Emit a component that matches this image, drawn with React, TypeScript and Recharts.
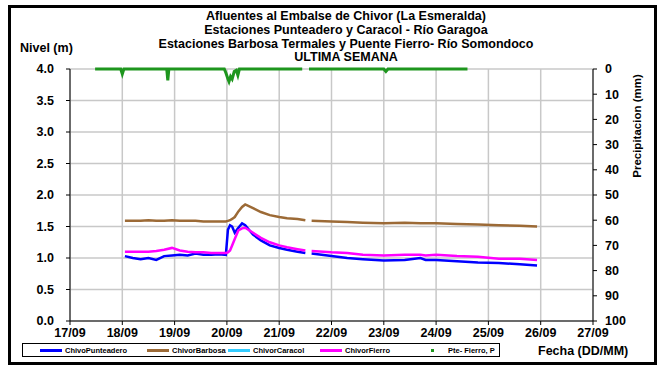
import { ComposedChart, Line, XAxis, YAxis, CartesianGrid } from 'recharts';

const FONT = '"Liberation Sans", Arial, sans-serif';

const titleLines = [
  'Afluentes al Embalse de Chivor (La Esmeralda)',
  'Estaciones Punteadero y Caracol - Río Garagoa',
  'Estaciones Barbosa Termales y Puente Fierro- Río Somondoco',
  'ULTIMA SEMANA',
];

// day of month (september), fractional
const dias = [
  18.05, 18.2, 18.35, 18.5, 18.65, 18.8, 18.95, 19.1, 19.25, 19.4, 19.55, 19.7, 19.85, 19.98,
  20.02, 20.06, 20.1, 20.15, 20.22, 20.29, 20.35, 20.5, 20.65, 20.82, 21.0, 21.15, 21.35, 21.5,
  21.56,
  21.62, 22.0, 22.3, 22.6, 23.0, 23.4, 23.7, 23.8, 24.0, 24.4, 24.8, 25.2, 25.6, 25.93,
];
const punteadero = [
  1.03, 1.0, 0.98, 1.0, 0.97, 1.03, 1.04, 1.05, 1.04, 1.07, 1.05, 1.05, 1.06, 1.05,
  1.45, 1.52, 1.5, 1.4, 1.48, 1.55, 1.52, 1.37, 1.28, 1.2, 1.16, 1.13, 1.1, 1.08,
  null,
  1.07, 1.03, 1.0, 0.98, 0.96, 0.97, 1.0, 0.97, 0.97, 0.95, 0.93, 0.92, 0.9, 0.88,
];
const barbosa = [
  1.59, 1.59, 1.59, 1.6, 1.59, 1.59, 1.6, 1.59, 1.59, 1.59, 1.58, 1.58, 1.58, 1.58,
  1.59, 1.6, 1.62, 1.65, 1.74, 1.81, 1.85, 1.79, 1.73, 1.68, 1.65, 1.63, 1.62, 1.6,
  null,
  1.59, 1.58, 1.57, 1.56, 1.55, 1.56, 1.55, 1.55, 1.55, 1.54, 1.53, 1.52, 1.51, 1.5,
];
const caracol: (number | null)[] = dias.map(() => null);
const fierro = [
  1.1, 1.1, 1.1, 1.1, 1.11, 1.13, 1.16, 1.12, 1.1, 1.09, 1.09, 1.08, 1.08, 1.08,
  1.09, 1.12, 1.2, 1.3, 1.44, 1.47, 1.48, 1.4, 1.32, 1.25, 1.2, 1.17, 1.14, 1.12,
  null,
  1.11, 1.09, 1.08, 1.05, 1.04, 1.05, 1.05, 1.04, 1.05, 1.03, 1.02, 0.99, 0.99, 0.97,
];

const diasLluvia = [
  17.48, 17.97, 18.0, 18.03, 18.85, 18.87, 18.89, 19.95, 19.98, 20.02, 20.04, 20.07,
  20.1, 20.14, 20.18, 20.21, 20.24, 21.44, 21.5, 21.57, 23.0, 23.04, 23.08, 24.6,
];
const lluvia = [
  0, 0, 2, 0, 0, 4.5, 0, 0, 1.5, 4, 5, 3, 4, 1, 0.5, 2.5, 0, 0, null, 0, 0, 1, 0, 0,
];

const xTicks = [17, 18, 19, 20, 21, 22, 23, 24, 25, 26, 27];
const nivelTicks = [0, 0.5, 1, 1.5, 2, 2.5, 3, 3.5, 4];
const lluviaTicks = [0, 10, 20, 30, 40, 50, 60, 70, 80, 90, 100];

const series = [
  { key: 'punteadero', name: 'ChivoPunteadero', color: '#0000ff' },
  { key: 'barbosa', name: 'ChivorBarbosa', color: '#9c6a36' },
  { key: 'caracol', name: 'ChivorCaracol', color: '#33ccff' },
  { key: 'fierro', name: 'ChivorFierro', color: '#ff00ff' },
];
const lluviaName = 'Pte- Fierro, P';
const lluviaColor = '#1e961e';

const nivelData = dias.map((d, i) => ({
  d, punteadero: punteadero[i], barbosa: barbosa[i], caracol: caracol[i], fierro: fierro[i],
}));
const lluviaData = diasLluvia.map((d, i) => ({ d, p: lluvia[i] }));

const fmtDia = (d: number) => `${d}/09`;
const tickStyle = { fill: '#000', fontSize: 12.5, fontWeight: 700, fontFamily: FONT };

export default function App() {
  return (
    <div style={{ position: 'relative', width: 662, height: 370, fontFamily: FONT, background: '#fff' }}>
      <style>{'body{margin:0}'}</style>
      <div style={{ position: 'absolute', left: 8, top: 5, width: 643, height: 354, border: '3px solid #000' }} />
      <div style={{ position: 'absolute', left: 136, width: 420, top: 10, textAlign: 'center',
        fontSize: 12.5, fontWeight: 700, lineHeight: '13.8px' }}>
        {titleLines.map((t) => <div key={t}>{t}</div>)}
      </div>
      <div style={{ position: 'absolute', left: 20, top: 41, fontSize: 12.5, fontWeight: 700 }}>Nivel (m)</div>
      <div style={{ position: 'absolute', left: 637, top: 126, fontSize: 11.5, fontWeight: 700,
        transform: 'translate(-50%, -50%) rotate(-90deg)', whiteSpace: 'nowrap' }}>Precipitacion (mm)</div>
      <div style={{ position: 'absolute', left: 538, top: 344, fontSize: 12.5, fontWeight: 700 }}>Fecha (DD/MM)</div>

      <div style={{ position: 'absolute', left: 0, top: 0 }}>
        <ComposedChart width={662} height={370} data={nivelData}
          margin={{ top: 69, right: 39, bottom: 29, left: 30 }}>
          <CartesianGrid yAxisId="l" stroke="#c8c8c8" strokeWidth={1.5} />
          <XAxis dataKey="d" type="number" domain={[17, 27]} ticks={xTicks} tickFormatter={fmtDia}
            stroke="#000" tickSize={4} tickMargin={3} height={20} tick={tickStyle} interval={0} />
          <YAxis yAxisId="l" domain={[0, 4]} ticks={nivelTicks} tickFormatter={(v: number) => v.toFixed(1)}
            stroke="#000" tickSize={4} tickMargin={12} width={40} tick={tickStyle} interval={0} />
          <YAxis yAxisId="r" orientation="right" reversed domain={[0, 100]} ticks={lluviaTicks}
            stroke="#000" tickSize={4} tickMargin={8} width={30} tick={tickStyle} interval={0} />
          {series.map((s) => (
            <Line key={s.key} yAxisId="l" dataKey={s.key} name={s.name} stroke={s.color} strokeWidth={2.5}
              dot={false} type="linear" isAnimationActive={false} />
          ))}
          <Line yAxisId="r" data={lluviaData} dataKey="p" name={lluviaName} stroke={lluviaColor}
            strokeWidth={3} dot={false} type="linear" isAnimationActive={false} />
        </ComposedChart>
      </div>

      <div style={{ position: 'absolute', left: 22, top: 343, width: 476, height: 12, border: '1px solid #000',
        fontSize: 7.5, fontWeight: 700 }}>
        {series.map((s, i) => (
          <div key={s.key} style={{ position: 'absolute', left: [17, 124, 205, 297][i], top: 0,
            display: 'flex', alignItems: 'center', height: 12 }}>
            <span style={{ display: 'inline-block', width: 22, height: 3, background: s.color, marginRight: 3 }} />
            <span>{s.name}</span>
          </div>
        ))}
        <div style={{ position: 'absolute', left: 408, top: 0, display: 'flex', alignItems: 'center', height: 12 }}>
          <span style={{ display: 'inline-block', width: 3, height: 3, background: lluviaColor, marginRight: 14 }} />
          <span>{lluviaName}</span>
        </div>
      </div>
    </div>
  );
}
